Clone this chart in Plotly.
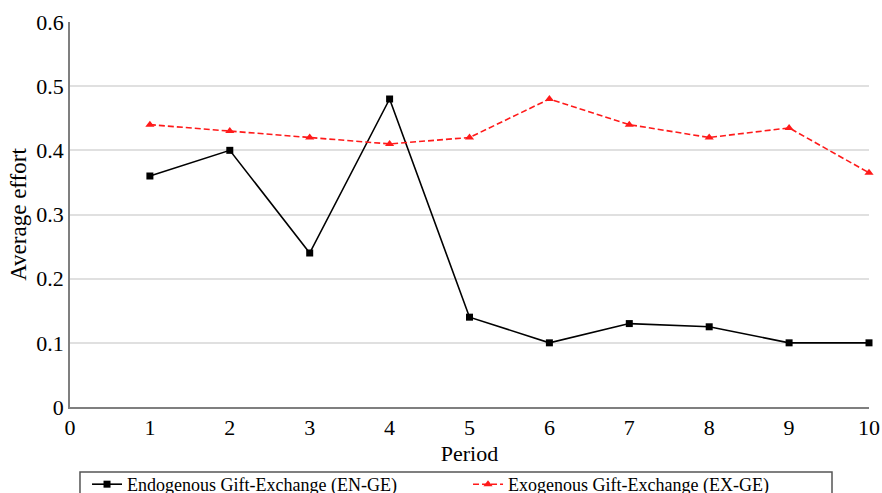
import plotly.graph_objects as go

periods = [1, 2, 3, 4, 5, 6, 7, 8, 9, 10]
en_ge = [0.36, 0.40, 0.24, 0.48, 0.14, 0.10, 0.13, 0.125, 0.10, 0.10]
ex_ge = [0.44, 0.43, 0.42, 0.41, 0.42, 0.48, 0.44, 0.42, 0.435, 0.365]
x_ticks = [0, 1, 2, 3, 4, 5, 6, 7, 8, 9, 10]
y_ticks = [0, 0.1, 0.2, 0.3, 0.4, 0.5, 0.6]
y_tick_text = ["0", "0.1", "0.2", "0.3", "0.4", "0.5", "0.6"]

FONT = "Liberation Serif, Times New Roman, serif"

fig = go.Figure()
fig.add_trace(go.Scatter(
    x=periods, y=en_ge, mode="lines+markers",
    name="Endogenous Gift-Exchange (EN-GE)",
    line=dict(color="black", width=1.6),
    marker=dict(symbol="square", size=7, color="black"),
    cliponaxis=False,
))
fig.add_trace(go.Scatter(
    x=periods, y=ex_ge, mode="lines+markers",
    name="Exogenous Gift-Exchange (EX-GE)",
    line=dict(color="#ff1a1a", width=1.6, dash="6px,3px"),
    marker=dict(symbol="triangle-up", size=8, color="#ff1a1a"),
    cliponaxis=False,
))

fig.update_layout(
    width=882, height=493,
    margin=dict(l=70, r=13, t=22, b=86, autoexpand=False),
    paper_bgcolor="white", plot_bgcolor="white",
    font=dict(family=FONT, size=22, color="black"),
    xaxis=dict(
        range=[0, 10], tickvals=x_ticks, showgrid=False, zeroline=False,
        showline=True, linecolor="#7f7f7f", linewidth=1.5,
        ticks="", tickfont=dict(size=22),
        title=dict(text="Period", font=dict(size=22), standoff=6),
    ),
    yaxis=dict(
        range=[0, 0.6], tickvals=y_ticks, ticktext=y_tick_text,
        showgrid=True, gridcolor="#e0e0e0", gridwidth=1.5, zeroline=False,
        showline=True, linecolor="#7f7f7f", linewidth=1.5,
        ticks="", tickfont=dict(size=22),
        title=dict(text="Average effort", font=dict(size=23), standoff=3),
    ),
    legend=dict(
        orientation="h", xref="paper", yref="paper",
        x=0.0213, y=-0.1532, xanchor="left", yanchor="top",
        borderwidth=0, bgcolor="rgba(0,0,0,0)",
        font=dict(size=18, family=FONT),
        entrywidth=336, entrywidthmode="pixels",
        itemwidth=30, traceorder="normal",
    ),
    showlegend=True,
)

# legend frame (its lower part runs past the bottom edge, as in the source)
fig.add_shape(
    type="rect", xref="paper", yref="paper",
    x0=0.0125, x1=0.9537, y0=-0.26, y1=-0.1688,
    line=dict(color="#555555", width=1.5), fillcolor="rgba(0,0,0,0)",
    layer="above",
)

fig.write_html(
    "out.html",
    config={"displayModeBar": False},
    post_script="document.body.style.margin='0px';document.body.style.overflow='hidden';",
)
